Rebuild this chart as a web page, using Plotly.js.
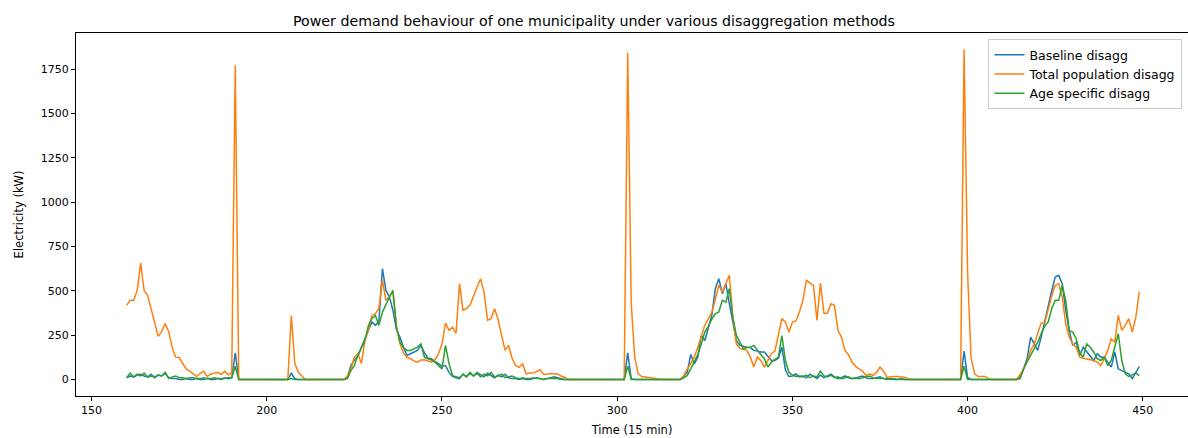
<!DOCTYPE html>
<html>
<head>
<meta charset="utf-8">
<script src="https://cdn.plot.ly/plotly-3.0.1.min.js"></script>
<style>html,body{margin:0;padding:0;background:#fff}#chart{width:1188px;height:438px}</style>
</head>
<body>
<div id="chart"></div>
<script>
// Time index of the first sample (15-minute steps)
const timeStart = 160;

const seriesNames = ["Baseline disagg", "Total population disagg", "Age specific disagg"];
const seriesColors = ["#1f77b4", "#ff7f0e", "#2ca02c"];

const baselineDisagg = [
  10,20,15,25,30,20,15,30,10,25,20,35,10,5,5,0,0,5,0,0,5,0,0,5,0,0,5,0,10,5,10,150,0,
  0,0,0,0,0,0,0,0,0,0,0,0,0,0,
  35,5,
  0,0,0,0,0,0,0,0,0,0,0,0,0,0,
  13,79,110,130,182,230,286,324,305,330,625,502,465,390,280,240,182,135,145,155,164,192,150,120,117,100,90,75,79,40,
  17,10,5,30,15,35,20,40,25,15,35,20,10,25,15,30,10,5,5,0,5,0,0,5,10,5,0,5,10,15,10,5,0,
  0,0,0,0,0,0,0,0,0,0,0,0,0,0,0,0,0,
  150,5,
  0,0,0,0,0,0,0,0,0,0,0,0,0,0,
  20,41,141,88,126,248,220,295,361,512,568,484,540,427,314,220,192,185,182,180,164,160,155,155,130,107,107,120,182,55,17,
  20,32,15,20,10,30,15,5,25,10,20,30,15,5,10,20,10,5,5,15,20,10,5,5,10,15,5,0,5,0,0,5,0,0,
  0,0,0,0,0,0,0,0,0,0,0,0,0,0,0,
  160,10,
  0,0,0,0,0,0,0,0,0,0,0,0,0,0,
  13,60,120,239,201,164,239,324,427,500,578,587,540,390,277,192,211,136,182,155,130,107,145,126,126,100,70,155,60,50,41,32,5,41,73
];

const totalPopulationDisagg = [
  418,446,446,500,656,500,474,400,320,243,270,316,270,180,126,124,90,60,47,30,17,35,47,17,30,36,40,28,47,25,40,1770,0,
  0,0,0,0,0,0,0,0,0,0,0,0,0,0,
  360,90,40,20,
  0,0,0,0,0,0,0,0,0,0,0,0,
  20,60,126,145,90,220,280,361,371,400,559,446,470,493,300,201,150,125,117,105,98,110,111,105,98,110,145,200,
  318,277,295,260,540,390,400,420,474,520,568,493,333,344,399,339,250,164,192,120,79,68,88,32,36,36,45,55,28,32,32,32,30,20,13,
  0,0,0,0,0,0,0,0,0,0,0,0,0,0,0,0,0,
  1840,430,126,32,17,15,13,8,5,
  0,0,0,0,0,0,0,
  20,60,90,126,182,240,305,340,380,450,531,493,540,587,350,200,175,170,164,126,70,126,107,70,107,145,160,250,343,324,267,324,
  330,380,446,559,545,531,333,544,374,374,427,418,277,239,164,140,98,75,60,47,23,32,23,40,70,47,13,17,17,17,15,13,5,
  0,0,0,0,0,0,0,0,0,0,0,0,0,0,0,
  1860,600,120,32,17,17,17,5,
  0,0,0,0,0,0,0,0,
  28,60,100,164,200,260,318,318,400,470,531,540,465,314,240,200,182,126,120,117,110,107,98,79,117,164,229,211,361,277,305,343,267,350,495
];

const ageSpecificDisagg = [
  10,36,13,30,20,36,13,20,15,25,20,41,5,15,20,10,10,5,10,10,5,5,10,5,5,10,5,5,5,10,10,75,0,
  0,0,0,0,0,0,0,0,0,0,0,0,0,0,
  5,0,
  0,0,0,0,0,0,0,0,0,0,0,0,0,0,
  5,50,79,140,180,220,305,344,361,305,380,427,465,502,295,211,180,164,164,173,182,201,124,117,110,98,80,60,192,90,
  22,15,10,30,15,40,20,35,15,30,20,40,15,20,30,10,15,20,10,5,10,5,5,10,5,5,0,5,5,5,5,0,0,
  0,0,0,0,0,0,0,0,0,0,0,0,0,0,0,0,0,
  75,0,
  0,0,0,0,0,0,0,0,0,0,0,0,0,0,
  10,23,60,98,140,200,267,300,340,370,380,446,436,512,350,250,210,173,180,182,192,164,140,117,70,98,110,126,248,107,41,
  25,17,20,15,25,10,20,15,47,20,15,25,10,15,5,10,15,5,10,5,10,15,20,10,5,5,5,5,0,5,0,0,0,0,
  0,0,0,0,0,0,0,0,0,0,0,0,0,0,0,
  75,0,
  0,0,0,0,0,0,0,0,0,0,0,0,0,0,
  5,60,100,136,180,211,258,300,324,399,446,446,531,446,277,267,230,150,126,201,182,155,117,107,126,79,107,180,258,107,32,17,28,36,22
];

const xTicks = [150, 200, 250, 300, 350, 400, 450];
const yTicks = [0, 250, 500, 750, 1000, 1250, 1500, 1750];

const allSeries = [baselineDisagg, totalPopulationDisagg, ageSpecificDisagg];
const traces = allSeries.map((vals, k) => ({
  type: "scatter",
  mode: "lines",
  name: seriesNames[k],
  x: vals.map((_, i) => timeStart + i),
  y: vals,
  line: {color: seriesColors[k], width: 1.5},
  hoverinfo: "x+y"
}));

const font = "DejaVu Sans, sans-serif";
const axisCommon = {
  showgrid: false,
  zeroline: false,
  showline: true,
  mirror: true,
  linecolor: "#000",
  linewidth: 1,
  ticks: "outside",
  ticklen: 4,
  tickwidth: 1,
  tickcolor: "#000",
  automargin: false,
  tickfont: {family: font, size: 11, color: "#000"}
};

const layout = {
  width: 1188,
  height: 438,
  paper_bgcolor: "#fff",
  plot_bgcolor: "#fff",
  margin: {l: 76, r: 0, t: 33, b: 42},
  title: {
    text: "Power demand behaviour of one municipality under various disaggregation methods",
    font: {family: font, size: 14.2, color: "#000"},
    x: 0.5, xanchor: "center", y: 1, yref: "paper", yanchor: "bottom", pad: {b: 7},
    automargin: false
  },
  xaxis: Object.assign({}, axisCommon, {
    range: [145.55, 462.9],
    tickvals: xTicks,
    ticktext: xTicks.map(String),
    title: {text: "Time (15 min)", font: {family: font, size: 11.5, color: "#000"}, standoff: 9}
  }),
  yaxis: Object.assign({}, axisCommon, {
    range: [-93, 1953],
    tickvals: yTicks,
    ticktext: yTicks.map(String),
    title: {text: "Electricity (kW)", font: {family: font, size: 11.5, color: "#000"}, standoff: 14}
  }),
  legend: {
    x: 0.995, xanchor: "right", y: 0.983, yanchor: "top",
    bgcolor: "rgba(255,255,255,0.8)",
    bordercolor: "#cccccc",
    borderwidth: 1,
    font: {family: font, size: 12.5, color: "#000"},
    tracegroupgap: 0,
    itemwidth: 30
  },
  showlegend: true
};

Plotly.newPlot("chart", traces, layout, {displayModeBar: false, staticPlot: true});
</script>
</body>
</html>
